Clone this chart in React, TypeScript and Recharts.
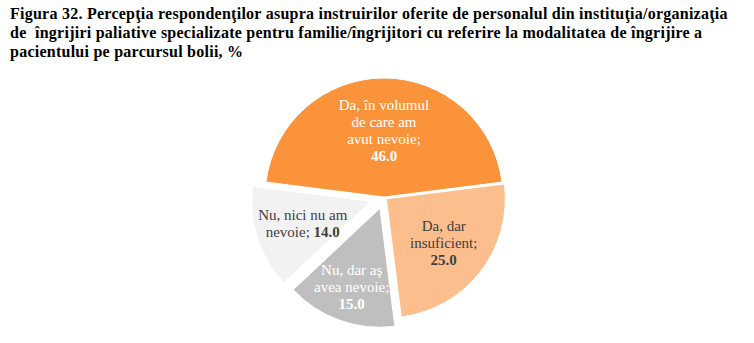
import { PieChart, Pie, Cell } from 'recharts';

// Chart data
const categories = [
    'Da, în volumul de care am avut nevoie',
    'Da, dar insuficient',
    'Nu, dar aş avea nevoie',
    'Nu, nici nu am nevoie',
];
const values = [46.0, 25.0, 15.0, 14.0];
// how the label text wraps inside each slice (text before the value)
const labelLines = [
    ['Da, în volumul', 'de care am', 'avut nevoie;'],
    ['Da, dar', 'insuficient;'],
    ['Nu, dar aş', 'avea nevoie;'],
    ['Nu, nici nu am', 'nevoie;'],
];
const titleLines = [
    'Figura 32. Percepţia respondenţilor asupra instruirilor oferite de personalul din instituţia/organizaţia',
    'de\u00a0 îngrijiri paliative specializate pentru familie/îngrijitori cu referire la modalitatea de îngrijire a',
    'pacientului pe parcursul bolii, %',
];

// Styles
const W = 754;
const H = 343;
const CX = 384;
const CY = 197;
const R = 119;
const START = 172.8;
const COLORS = ['#FA933A', '#FBBE8C', '#BFBFBF', '#F2F2F2'];
const TEXT_COLORS = ['#FFFFFF', '#404040', '#FFFFFF', '#404040'];
const EXPLODE = [0, 3, 12, 14];
const LABEL_POS = [0.56, 0.61, 0.7, 0.6];
const VALUE_INLINE = [false, false, false, true];
const LINE_H = 17;
const FONT = '"Liberation Serif", "DejaVu Serif", serif';
const RAD = Math.PI / 180;

const rows = categories.map((name, i) => ({ name, value: values[i] }));
const total = values.reduce((s, v) => s + v, 0);

// mid angle of each slice, used to push exploded slices outwards
const midAngles = values.map((v, i) => {
    const before = values.slice(0, i).reduce((s, x) => s + x, 0);
    return START - ((before + v / 2) / total) * 360;
});

const renderLabel = (slice: number) => (props: any) => {
    const { cx, cy, midAngle, outerRadius, index } = props;
    if (index !== slice) return null;
    const r = outerRadius * LABEL_POS[slice];
    const x = cx + r * Math.cos(-midAngle * RAD);
    const y = cy + r * Math.sin(-midAngle * RAD);
    const lines = labelLines[slice];
    const inline = VALUE_INLINE[slice];
    const n = inline ? lines.length : lines.length + 1;
    const first = y - ((n - 1) / 2) * LINE_H;
    const valueText = values[slice].toFixed(1);
    return (
        <text
            x={x}
            y={first}
            textAnchor="middle"
            dominantBaseline="central"
            fill={TEXT_COLORS[slice]}
            fontFamily={FONT}
            fontSize={15}
        >
            {lines.map((line, k) => (
                <tspan key={k} x={x} y={first + k * LINE_H}>
                    {line}
                    {inline && k === lines.length - 1 && (
                        <tspan fontWeight="bold"> {valueText}</tspan>
                    )}
                </tspan>
            ))}
            {!inline && (
                <tspan x={x} y={first + lines.length * LINE_H} fontWeight="bold">
                    {valueText}
                </tspan>
            )}
        </text>
    );
};

export default function App() {
    return (
        <div style={{ position: 'absolute', left: 0, top: 0, width: W, height: H, background: '#fff' }}>
            <div
                style={{
                    position: 'absolute',
                    left: 10,
                    top: 4,
                    fontFamily: FONT,
                    fontWeight: 'bold',
                    fontSize: 16,
                    lineHeight: '19px',
                    letterSpacing: '0.25px',
                    color: '#000',
                    whiteSpace: 'nowrap',
                }}
            >
                {titleLines.map((t, i) => (
                    <div key={i}>{t}</div>
                ))}
            </div>
            <div style={{ position: 'absolute', left: 0, top: 0 }}>
                <PieChart width={W} height={H} margin={{ top: 0, right: 0, bottom: 0, left: 0 }}>
                    {values.map((_, i) => {
                        const dx = EXPLODE[i] * Math.cos(-midAngles[i] * RAD);
                        const dy = EXPLODE[i] * Math.sin(-midAngles[i] * RAD);
                        return (
                            <Pie
                                key={i}
                                data={rows}
                                dataKey="value"
                                nameKey="name"
                                cx={CX + dx}
                                cy={CY + dy}
                                outerRadius={R}
                                startAngle={START}
                                endAngle={START - 360}
                                stroke="none"
                                label={renderLabel(i)}
                                labelLine={false}
                                isAnimationActive={false}
                            >
                                {rows.map((_, k) => (
                                    <Cell
                                        key={k}
                                        fill={k === i ? COLORS[k] : 'none'}
                                        stroke={k === i ? '#FFFFFF' : 'none'}
                                        strokeWidth={1}
                                    />
                                ))}
                            </Pie>
                        );
                    })}
                </PieChart>
            </div>
        </div>
    );
}
